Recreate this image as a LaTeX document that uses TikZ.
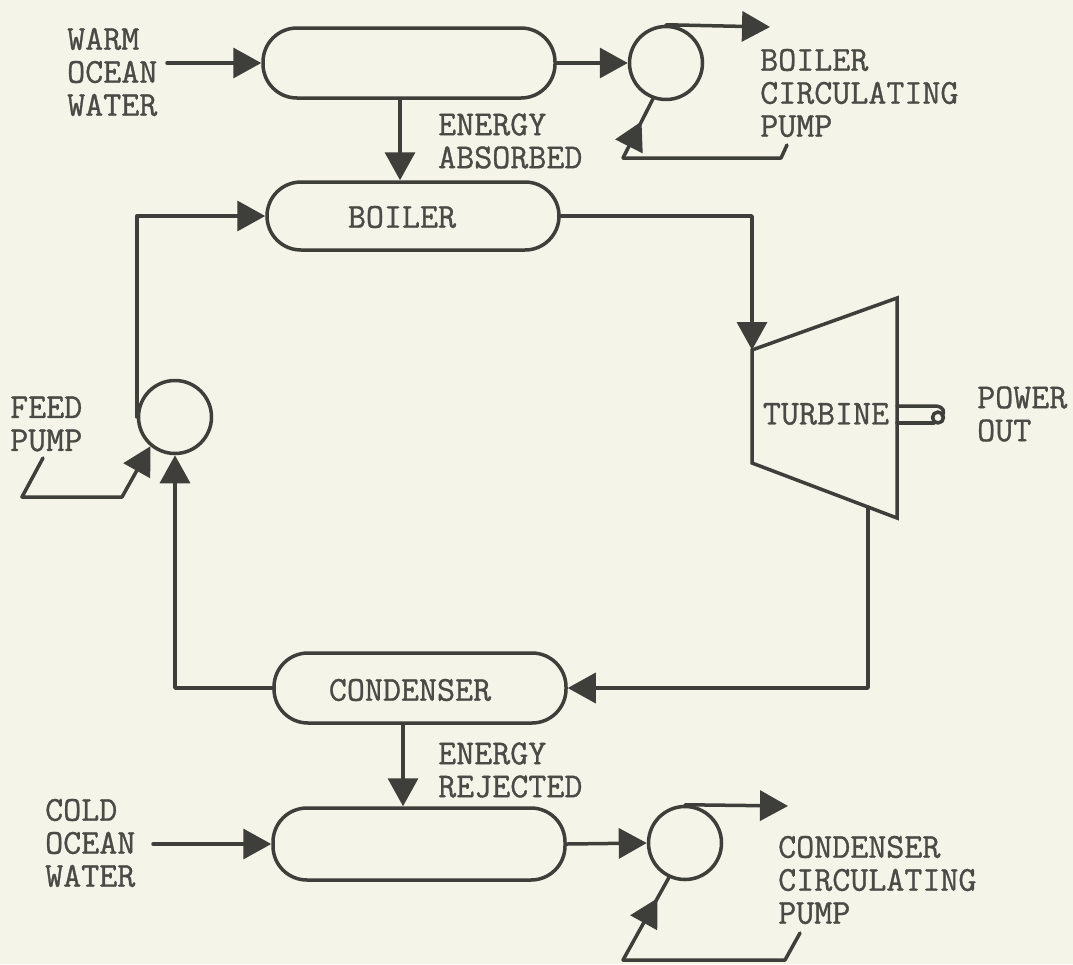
\documentclass[tikz,border=0pt]{standalone}
\usepackage{fontspec}
\newfontfamily\tw{lmmono12-regular.otf}[FakeBold=0.9]
\usetikzlibrary{arrows.meta,decorations.markings,calc}
\definecolor{bg}{HTML}{F4F5E8}
\definecolor{ink}{HTML}{3E3E3A}
\definecolor{txt}{HTML}{4A4A46}
\begin{document}
\begin{tikzpicture}[x=1pt,y=-1pt,
 line/.style={draw=ink,line width=3.5pt,line cap=round,line join=round},
 arr/.style={line,-{Triangle[length=28pt,width=30pt]}},
 midarr/.style={line,postaction={decorate},decoration={markings,mark=at position #1 with {\arrow{Triangle[length=28pt,width=30pt]}}}},
 hx/.style={draw=ink,line width=3.5pt,rectangle,rounded corners=34pt,minimum width=292pt,minimum height=70pt,inner sep=0pt},
 pump/.style={draw=ink,line width=3.5pt,circle,minimum size=73pt,inner sep=0pt},
 lbl/.style={text=txt,font=\fontsize{35}{33}\selectfont\tw,align=left,anchor=west,inner sep=0pt},
 ctr/.style={text=txt,font=\fontsize{35}{33}\selectfont\tw,inner sep=0pt}
]
\fill[bg] (0,0) rectangle (1073,964);
\useasboundingbox (0,0) rectangle (1073,964);

% equipment
\node[hx] (warmhx) at (409,63) {};
\node[hx,minimum height=68pt] (boiler) at (413,216) {};
\node[hx] (condenser) at (420,688) {};
\node[hx,minimum height=72pt] (coldhx) at (419,844) {};
\node[pump] (bpump) at (666,63) {};
\node[pump] (fpump) at (175,417) {};
\node[pump] (cpump) at (685,843) {};

% turbine
\coordinate (tA) at (752,350);
\coordinate (tB) at (897,298);
\coordinate (tC) at (897,518);
\coordinate (tD) at (752,463);
\draw[line,line join=miter] (tA) -- (tB) -- (tC) -- (tD) -- cycle;
\coordinate (tout) at (868,507);

% shaft
\coordinate (s1) at (897,406);
\coordinate (s2) at (897,423);
\draw[line] (s1) -- (936,406) .. controls (944,407) and (945,412) .. (942,416);
\draw[line] (938,417.5) circle (5.5);
\draw[line] (s2) -- (934,423);

% texts
\node[ctr] (boilertxt) at (402,217) {BOILER};
\node[ctr] (condtxt) at (410,690) {CONDENSER};
\node[ctr] (turbtxt) at (826,414) {TURBINE};
\node[lbl] (warmtxt) at (67,72) {WARM\\OCEAN\\WATER};
\node[lbl] (abstxt) at (438,141) {ENERGY\\ABSORBED};
\node[lbl] (bcptxt) at (760,93) {BOILER\\CIRCULATING\\PUMP};
\node[lbl] (feedtxt) at (10,424) {FEED\\PUMP};
\node[lbl] (powtxt) at (977,414) {POWER\\OUT};
\node[lbl] (coldtxt) at (45,843) {COLD\\OCEAN\\WATER};
\node[lbl] (rejtxt) at (438,770) {ENERGY\\REJECTED};
\node[lbl] (ccptxt) at (778,880) {CONDENSER\\CIRCULATING\\PUMP};

% connectors
\coordinate (warmin) at (167,63);
\draw[arr] (warmin) -- (warmhx.west);
\draw[arr] (warmhx.east) -- (bpump.west);
\coordinate (bout) at (770,27);
\draw[arr] (bpump.north) -- (bout);
\coordinate (ea) at (400,0);
\draw[arr] (warmhx.south -| ea) -- (boiler.north -| ea);
\draw[arr] (fpump.west) |- (boiler.west);
\draw[arr] (boiler.east) -| (tA);
\draw[arr] (tout) |- (condenser.east);
\draw[arr] (condenser.west) -| (fpump.south);
\coordinate (eb) at (403,0);
\draw[arr] (condenser.south -| eb) -- (coldhx.north -| eb);
\coordinate (coldin) at (153,844);
\draw[arr] (coldin) -- (coldhx.west);
\draw[arr] (coldhx.east) -- (cpump.west);
\coordinate (cout) at (788,806);
\draw[arr] (cpump.north) -- (cout);

% pump drives
\coordinate (bd1) at (787,145);
\coordinate (bd2) at (781,158);
\coordinate (bd3) at (623,158);
\draw[line] (bd1) -- (bd2) -- (bd3);
\draw[midarr=0.62] (bd3) -- (bpump.250);

\coordinate (fd1) at (43,458);
\coordinate (fd2) at (22,497);
\coordinate (fd3) at (122,497);
\draw[line] (fd1) -- (fd2) -- (fd3);
\draw[arr] (fd3) -- (fpump.230);

\coordinate (cd1) at (800,933);
\coordinate (cd2) at (785,960);
\coordinate (cd3) at (623,960);
\draw[line] (cd1) -- (cd2) -- (cd3);
\draw[midarr=0.75] (cd3) -- (cpump.245);
\end{tikzpicture}
\end{document}
